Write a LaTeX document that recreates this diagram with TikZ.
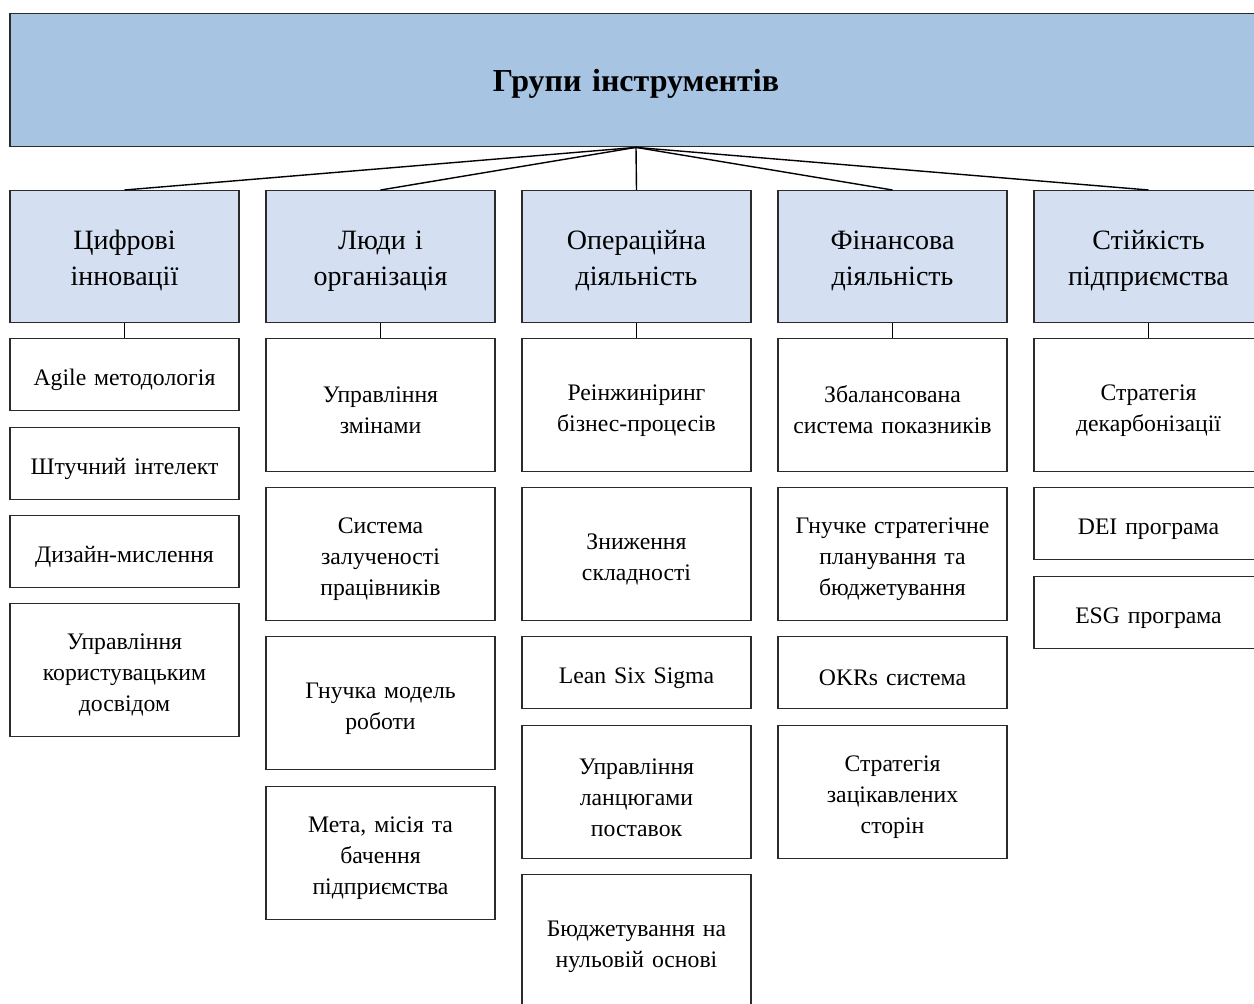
\documentclass[tikz,border=0pt]{standalone}
\usepackage{fontspec}
\setmainfont{Liberation Serif}
\definecolor{topfill}{HTML}{A7C4E3}
\definecolor{catfill}{HTML}{D4E0F1}
\definecolor{edge}{HTML}{2B2B2B}
\begin{document}
\begin{tikzpicture}[x=1pt,y=1pt,
  box/.style={draw=edge,line width=1.4pt,anchor=north,minimum width=229pt,inner sep=0pt,align=center},
  topbox/.style={box,fill=topfill,minimum width=1252pt,minimum height=133pt,text width=1200pt,font=\fontsize{32}{38}\selectfont\bfseries,
    execute at begin node={\rule{0pt}{29pt}}},
  catbox/.style={box,fill=catfill,minimum height=132pt,text width=220pt,font=\fontsize{28}{36}\selectfont,
    execute at begin node={\rule{0pt}{28pt}}},
  item/.style={box,fill=white,text width=222pt,font=\fontsize{23.7}{31}\selectfont,
    execute at begin node={\rule{0pt}{26pt}}},
  tall/.style={item,minimum height=133pt},
  short/.style={item,minimum height=72pt},
  conn/.style={draw=black,line width=1.4pt}]
\useasboundingbox (0,0) rectangle (1254,-1004);
\clip (0,0) rectangle (1254,-1004);
\fill[white] (0,0) rectangle (1254,-1004);
\node[topbox] (top) at (636,-13) {Групи інструментів};
% categories
\node[catbox] (c1) at (124.5,-190) {Цифрові\\інновації};
\node[catbox] (c2) at (380.5,-190) {Люди і\\організація};
\node[catbox] (c3) at (636.5,-190) {Операційна\\діяльність};
\node[catbox] (c4) at (892.5,-190) {Фінансова\\діяльність};
\node[catbox] (c5) at (1148.5,-190) {Стійкість\\підприємства};
% column 1
\node[short] (a1) at (124.5,-338) {Agile методологія};
\node[short] (a2) at (124.5,-427) {Штучний інтелект};
\node[short] (a3) at (124.5,-515) {Дизайн-мислення};
\node[tall]  (a4) at (124.5,-603) {Управління\\користувацьким\\досвідом};
% column 2
\node[tall] (b1) at (380.5,-338) {Управління\\змінами};
\node[tall] (b2) at (380.5,-487) {Система\\залученості\\працівників};
\node[tall] (b3) at (380.5,-636) {Гнучка модель\\роботи};
\node[tall] (b4) at (380.5,-786) {Мета, місія та\\бачення\\підприємства};
% column 3
\node[tall]  (d1) at (636.5,-338) {Реінжиніринг\\бізнес-процесів};
\node[tall]  (d2) at (636.5,-487) {Зниження\\складності};
\node[short] (d3) at (636.5,-636) {Lean Six Sigma};
\node[tall]  (d4) at (636.5,-725) {Управління\\ланцюгами\\поставок};
\node[tall]  (d5) at (636.5,-874) {Бюджетування на\\нульовій основі};
% column 4
\node[tall]  (e1) at (892.5,-338) {Збалансована\\система показників};
\node[tall]  (e2) at (892.5,-487) {Гнучке стратегічне\\планування та\\бюджетування};
\node[short] (e3) at (892.5,-636) {OKRs система};
\node[tall]  (e4) at (892.5,-725) {Стратегія\\зацікавлених\\сторін};
% column 5
\node[tall]  (f1) at (1148.5,-338) {Стратегія\\декарбонізації};
\node[short] (f2) at (1148.5,-487) {DEI програма};
\node[short] (f3) at (1148.5,-576) {ESG програма};
% connectors
\foreach \c in {c1,c2,c3,c4,c5} \draw[conn] (top.south) -- (\c.north);
\draw[conn] (c1.south) -- (a1.north);
\draw[conn] (c2.south) -- (b1.north);
\draw[conn] (c3.south) -- (d1.north);
\draw[conn] (c4.south) -- (e1.north);
\draw[conn] (c5.south) -- (f1.north);
\end{tikzpicture}
\end{document}
